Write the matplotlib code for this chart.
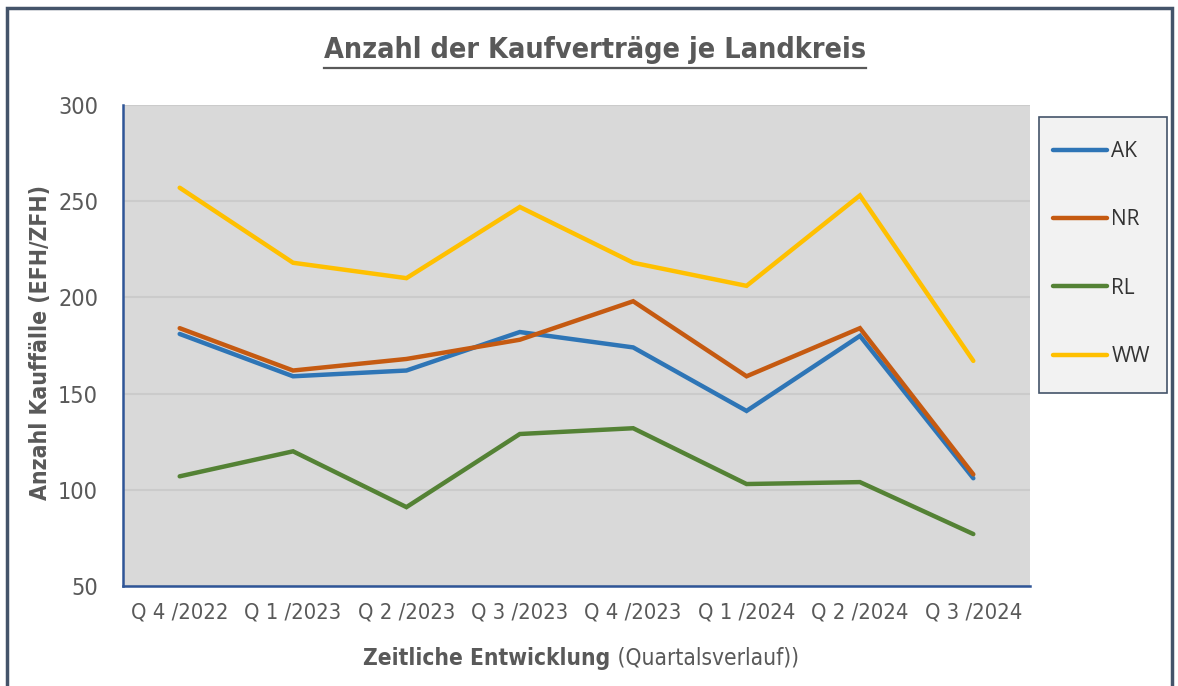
'''
Line chart: Anzahl der Kaufverträge je Landkreis.
'''

import matplotlib
matplotlib.use('Agg')
import matplotlib.pyplot as plt
from matplotlib import font_manager
from matplotlib.lines import Line2D
from matplotlib.patches import Rectangle

quarters = ['Q 4 /2022', 'Q 1 /2023', 'Q 2 /2023', 'Q 3 /2023',
            'Q 4 /2023', 'Q 1 /2024', 'Q 2 /2024', 'Q 3 /2024']
ak = [181, 159, 162, 182, 174, 141, 180, 106]
nr = [184, 162, 168, 178, 198, 159, 184, 108]
rl = [107, 120, 91, 129, 132, 103, 104, 77]
ww = [257, 218, 210, 247, 218, 206, 253, 167]
series_names = ['AK', 'NR', 'RL', 'WW']
colors = ['#2e75b6', '#c55a11', '#548235', '#ffc000']

grey = '#595959'

# pick a narrow sans font if one exists (the original uses Arial Narrow)
avail = {(f.name, f.stretch) for f in font_manager.fontManager.ttflist}
names = {n for n, _ in avail}
if 'Liberation Sans Narrow' in names:
    nfont = dict(family=['Liberation Sans Narrow', 'DejaVu Sans'])
elif ('DejaVu Sans', 'condensed') in avail:
    nfont = dict(family=['DejaVu Sans'], stretch='condensed')
else:
    nfont = dict(family=['Liberation Sans', 'DejaVu Sans'])

W, H = 1178, 686
fig = plt.figure(figsize=(W / 100, H / 100), dpi=100)

# outer frame of the chart
fig.add_artist(Rectangle((7 / W, -0.05), (1172 - 7) / W, 1.05 - 8 / H,
                         transform=fig.transFigure, fill=False,
                         edgecolor='#44546a', linewidth=2.5))

ax = fig.add_axes([123 / W, 100 / H, 907 / W, 481 / H])
ax.set_facecolor('#d9d9d9')

x = list(range(len(quarters)))
for vals, name, col in zip([ak, nr, rl, ww], series_names, colors):
    ax.plot(x, vals, color=col, linewidth=3.2, label=name, solid_capstyle='round',
            solid_joinstyle='miter')

ax.set_xlim(-0.5, len(quarters) - 0.5)
ax.set_ylim(50, 300)
ax.set_yticks([50, 100, 150, 200, 250, 300])
ax.set_xticks(x)
ax.set_xticklabels(quarters)
ax.grid(axis='y', color='#cbcbcb', linewidth=1.5)
ax.set_axisbelow(True)
for s in ['top', 'right']:
    ax.spines[s].set_visible(False)
for s in ['left', 'bottom']:
    ax.spines[s].set_color('#2f5597')
    ax.spines[s].set_linewidth(1.8)
ax.tick_params(length=0)
ax.tick_params(axis='y', pad=18)
ax.tick_params(axis='x', pad=12)
for lab in ax.get_xticklabels() + ax.get_yticklabels():
    lab.set(**nfont)
    lab.set_fontsize(17)
    lab.set_color(grey)

ylab = ax.set_ylabel('Anzahl Kauffälle (EFH/ZFH)', fontsize=17,
                     fontweight='bold', color=grey, **nfont)
ax.yaxis.set_label_coords(-0.078, 0.507)

title = fig.text(595 / W, 1 - 50 / H, 'Anzahl der Kaufverträge je Landkreis',
                 fontsize=23, fontweight='bold', color=grey,
                 ha='center', va='center', **nfont)

# x axis label: bold part + regular part
xl_bold = fig.text(0, 1 - 658 / H, 'Zeitliche Entwicklung', fontsize=17,
                   fontweight='bold', color=grey, ha='left', va='center', **nfont)
xl_reg = fig.text(0, 1 - 658 / H, ' (Quartalsverlauf))', fontsize=17,
                  color=grey, ha='left', va='center', **nfont)

fig.canvas.draw()
r = fig.canvas.get_renderer()


def fit(texts, measure, target):
    '''Scale font size of texts so that measure() gets close to target pixels.'''
    for _ in range(3):
        w = measure()
        for t in texts:
            t.set_fontsize(t.get_fontsize() * target / w)
        fig.canvas.draw()


fit([title], lambda: title.get_window_extent(r).width, 541)
fit([ylab], lambda: ylab.get_window_extent(r).height, 315)
xt = ax.get_xticklabels()
fit(xt, lambda: xt[0].get_window_extent(r).width, 98)
yt = ax.get_yticklabels()
fit(yt, lambda: yt[-1].get_window_extent(r).width, 40)
fit([xl_bold, xl_reg], lambda: xl_bold.get_window_extent(r).width
    + xl_reg.get_window_extent(r).width, 436)

wb = xl_bold.get_window_extent(r).width
wr = xl_reg.get_window_extent(r).width
x0 = 581 - (wb + wr) / 2
xl_bold.set_x(x0 / W)
xl_reg.set_x((x0 + wb) / W)

# underline the title
tb = title.get_window_extent(r)
uy = (H - 68) / H
fig.add_artist(Line2D([tb.x0 / W, tb.x1 / W], [uy, uy],
                      transform=fig.transFigure, color=grey, linewidth=1.6))

# legend box drawn separately so the inner spacing can match the original
fig.add_artist(Rectangle((1039 / W, 1 - 393 / H), (1167 - 1039) / W, (393 - 117) / H,
                         transform=fig.transFigure, facecolor='#f2f2f2',
                         edgecolor='#44546a', linewidth=1.2, zorder=1))
leg = fig.legend(loc='upper left', bbox_to_anchor=(1053 / W, 1 - 141 / H),
                 frameon=False, prop={'family': 'Open Sans', 'size': 15},
                 handlelength=2.6, labelspacing=2.27,
                 borderpad=0, handletextpad=0.2, borderaxespad=0)
leg.set_zorder(5)
for t in leg.get_texts():
    t.set_color('#333333')

fig.savefig('out.png', dpi=100)
